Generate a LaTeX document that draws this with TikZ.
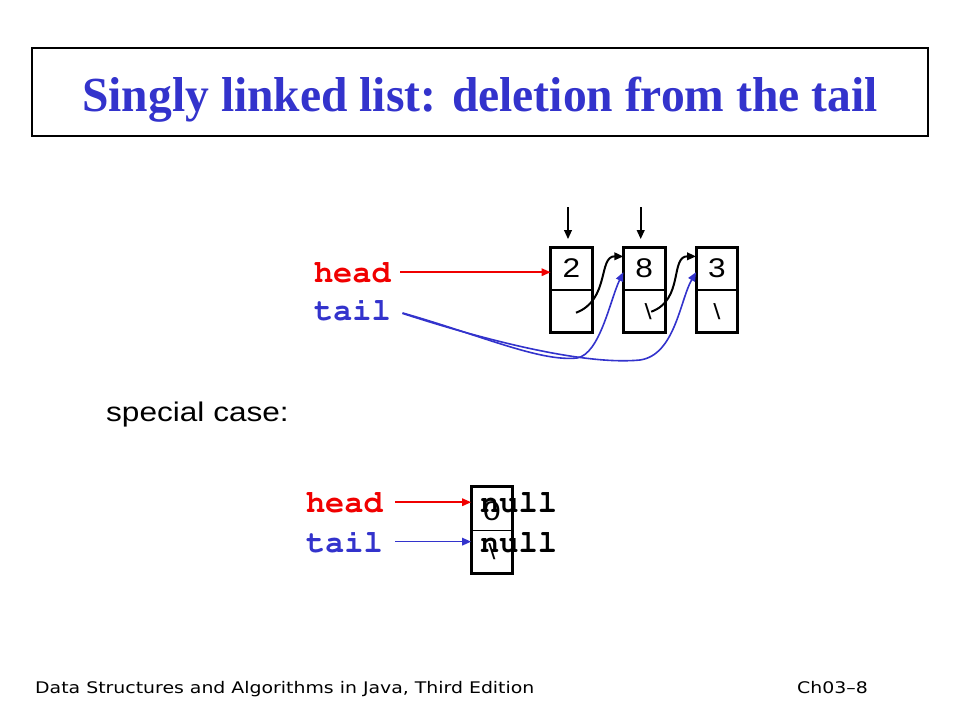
\documentclass[tikz,border=0pt]{standalone}
\usepackage[T1]{fontenc}
\usepackage{fontspec}
\setmainfont{Liberation Sans}
\newfontfamily\titlefont[FakeStretch=0.97]{Liberation Serif}
\newfontfamily\cellfont[FakeStretch=1.17]{Liberation Sans}
\newfontfamily\footfont[FakeStretch=1.18]{DejaVu Sans}
\newcommand{\ptrfont}{\fontencoding{T1}\fontfamily{pcr}\fontseries{b}\fontsize{32}{32}\selectfont}
\usetikzlibrary{positioning,arrows.meta}
\definecolor{titleblue}{RGB}{51,51,204}
\definecolor{headred}{RGB}{240,0,0}
\begin{document}
\begin{tikzpicture}[x=1pt,y=-1pt,>={Triangle[length=9pt,width=7.5pt]}]
      \tikzstyle{cell}=[draw,line width=0.7pt,minimum width=41pt,minimum height=42pt,inner sep=0pt,font=\cellfont\fontsize{27}{27}\selectfont]
      \tikzstyle{ptr}=[anchor=base east,inner sep=0pt,font=\ptrfont]
      \tikzstyle{nullval}=[anchor=base west,inner sep=0pt,font=\ptrfont]
      \tikzstyle{slash}=[inner sep=0pt,font=\cellfont\fontsize{22}{22}\selectfont]
      \tikzstyle{link}=[line width=2pt,->]
      \useasboundingbox (0,0) rectangle (960,720);

      \node[draw,line width=1.3pt,minimum width=896pt,minimum height=88pt,inner sep=0pt] (titlebox) at (480,92) {};
      \node[anchor=base,inner sep=0pt,text=titleblue,font=\titlefont\bfseries\fontsize{49}{49}\selectfont] (title) at (480,111) {Singly linked list: deletion from the tail};

      \node[cell] (v1) at (571.5,268.5) {2};
      \node[cell,below=0pt of v1] (p1) {};
      \node[cell,right=31pt of v1] (v2) {8};
      \node[cell,below=0pt of v2] (p2) {};
      \node[cell,right=31pt of v2] (v3) {3};
      \node[cell,below=0pt of v3] (p3) {};
      \foreach \i in {1,2,3}
          \draw[line width=3pt] (v\i.north west) rectangle (p\i.south east);
      \node[slash] (n2) at ([xshift=4pt]p2.center) {\textbackslash};
      \node[slash] (n3) at (p3.center) {\textbackslash};

      \draw[link,shorten >=8pt] ([xshift=-3.5pt,yshift=40pt]v1.north) -- ([xshift=-3.5pt]v1.north);
      \draw[link,shorten >=8pt] ([xshift=-3.5pt,yshift=40pt]v2.north) -- ([xshift=-3.5pt]v2.north);
      \draw[link] ([xshift=4.5pt,yshift=-1.5pt]p1.center) .. controls (610,300) and (598,256) .. (v2.150);
      \draw[link] ([xshift=3pt,yshift=-0.5pt]n2.center) .. controls (684,300) and (670,256) .. (v3.150);

      \node[ptr,text=headred] (head) at (391,282) {head};
      \node[ptr,text=titleblue] (tail) at (391,320) {tail};
      \draw[link,headred,line width=1.6pt,shorten <=9pt] (head.east) -- (head.east -| v1.west);
      \draw[link,titleblue,line width=1.6pt,shorten <=12pt] (tail.east) .. controls (480,335) and (540,362) .. (577,358) .. controls (600,354) and (610,300) .. (v2.190);
      \draw[link,titleblue,line width=1.6pt,shorten <=12pt] (tail.east) .. controls (500,345) and (590,365) .. (640,360) .. controls (675,355) and (680,300) .. (v3.190);

      \node[anchor=base west,inner sep=0pt,font=\cellfont\fontsize{27}{27}\selectfont] (special) at (106,421.5) {special case:};

      \node[cell,minimum height=43pt] (e1) at (492,508.5) {};
      \node[cell,below=0pt of e1] (e2) {};
      \draw[line width=3pt] (e1.north west) rectangle (e2.south east);
      \node[inner sep=0pt,font=\cellfont\fontsize{27}{27}\selectfont] (zero) at ([yshift=-3pt]e1.center) {0};
      \node[slash] (n0) at (e2.center) {\textbackslash};
      \node[nullval] (null1) at (480,512) {null};
      \node[nullval] (null2) at (480,552) {null};
      \node[ptr,text=headred] (head2) at (383,512) {head};
      \node[ptr,text=titleblue] (tail2) at (383,552) {tail};
      \draw[link,headred,line width=1.6pt,shorten <=12pt] (head2.east) -- (head2.east -| e1.west);
      \draw[link,titleblue,line width=1.6pt,shorten <=12pt] (tail2.east) -- (tail2.east -| e2.west);

      \node[anchor=base west,inner sep=0pt,font=\footfont\fontsize{16}{16}\selectfont] (book) at (35,693) {Data Structures and Algorithms in Java, Third Edition};
      \node[anchor=base east,inner sep=0pt,font=\footfont\fontsize{16}{16}\selectfont] (page) at (868,693) {Ch03–8};
\end{tikzpicture}
\end{document}
